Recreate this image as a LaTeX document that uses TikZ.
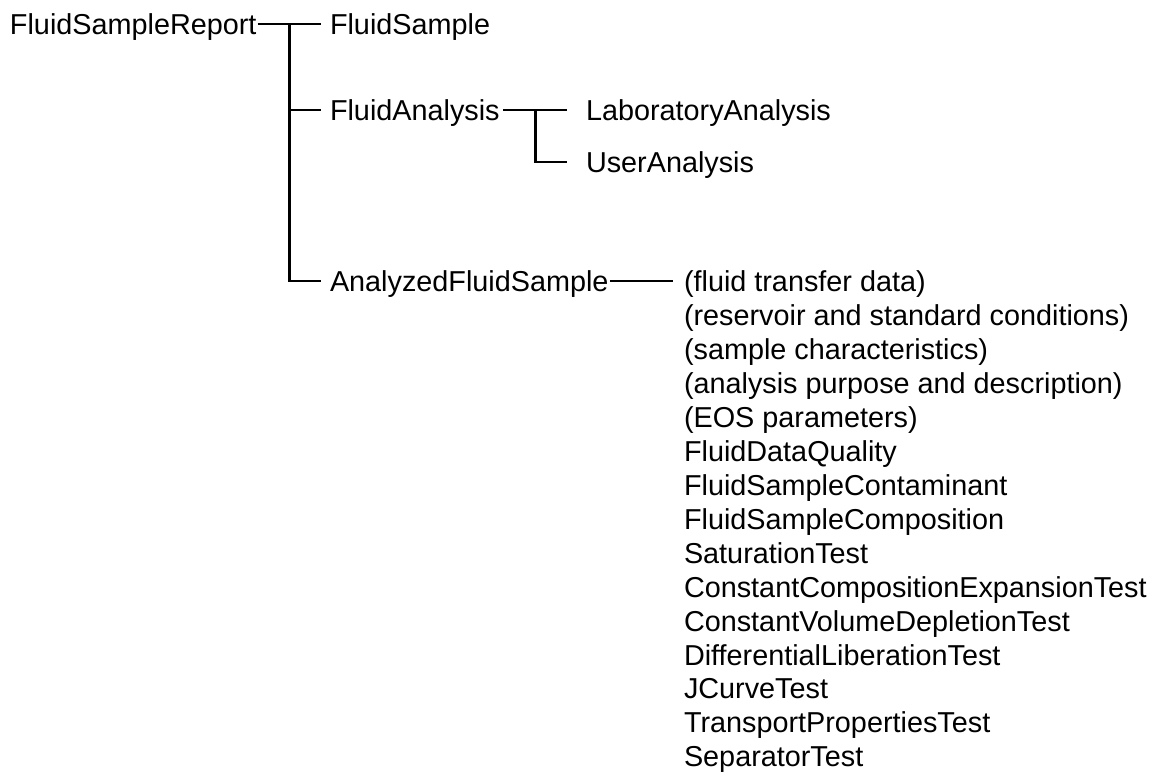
\documentclass[tikz,border=0pt]{standalone}
\usepackage{fontspec}
\setmainfont{Liberation Sans}
\begin{document}
\begin{tikzpicture}[x=0.5pt,y=-0.5pt,
  lbl/.style={anchor=west, inner sep=0pt, outer sep=0pt,
    font=\fontsize{14.4pt}{17pt}\selectfont, text height=13.82pt, text depth=3.02pt},
  conn/.style={line width=1.35pt, line cap=butt}]
\useasboundingbox (0,0) rectangle (1154,771);
% nodes
\node[lbl] (root) at (10,24) {FluidSampleReport};
\node[lbl] (fs) at (330,24) {FluidSample};
\node[lbl] (fa) at (330,110) {FluidAnalysis};
\node[lbl] (la) at (586,110) {LaboratoryAnalysis};
\node[lbl] (ua) at (586,162) {UserAnalysis};
\node[lbl] (afs) at (330,281) {AnalyzedFluidSample};
\foreach \t [count=\i] in {%
  (fluid transfer data),
  (reservoir and standard conditions),
  (sample characteristics),
  (analysis purpose and description),
  (EOS parameters),
  FluidDataQuality,
  FluidSampleContaminant,
  FluidSampleComposition,
  SaturationTest,
  ConstantCompositionExpansionTest,
  ConstantVolumeDepletionTest,
  DifferentialLiberationTest,
  JCurveTest,
  TransportPropertiesTest,
  SeparatorTest}
  \node[lbl] (l\i) at (684,{281+(\i-1)*33.93}) {\t};
% junctions
\coordinate (j1) at (289.5,24);
\coordinate (j2) at (535.5,110);
% connectors
\draw[conn] ([xshift=0.5pt]root.east) -- ([xshift=-4.5pt]fs.west);
\draw[conn] (j1) |- ([xshift=-4.5pt]afs.west);
\draw[conn] (j1 |- fa.west) -- ([xshift=-4.5pt]fa.west);
\draw[conn] ([xshift=1.7pt]fa.east) -- ([xshift=-9.5pt]la.west);
\draw[conn] (j2) |- ([xshift=-9.5pt]ua.west);
\draw[conn] ([xshift=0.8pt]afs.east) -- ([xshift=-5.5pt]l1.west);
\end{tikzpicture}
\end{document}
